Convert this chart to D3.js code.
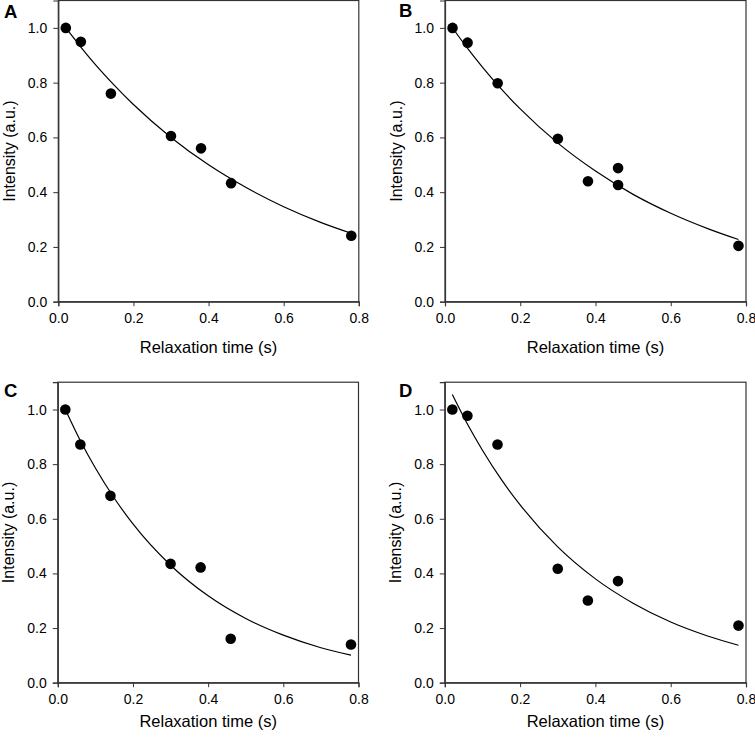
<!DOCTYPE html>
<html>
<head>
<meta charset="utf-8">
<script src="https://cdn.jsdelivr.net/npm/d3@7/dist/d3.min.js"></script>
<style>
  html, body { margin: 0; padding: 0; background: #fff; }
  svg { display: block; }
  text { font-family: "Liberation Sans", Arial, sans-serif; fill: #000; }
</style>
</head>
<body>
<svg id="chart" width="755" height="739"></svg>
<script>
// ---- data ----
const panelLabels = ["A", "B", "C", "D"];
const xTicks = [0, 0.2, 0.4, 0.6, 0.8];
const yTicks = [0, 0.2, 0.4, 0.6, 0.8, 1.0];
const xTitle = "Relaxation time (s)";
const yTitle = "Intensity (a.u.)";

// measured points (relaxation time, intensity)
const timesA = [0.02, 0.06, 0.14, 0.30, 0.38, 0.46, 0.78];
const valuesA = [1.00, 0.949, 0.760, 0.605, 0.560, 0.433, 0.241];
const timesB = [0.02, 0.06, 0.14, 0.30, 0.38, 0.46, 0.46, 0.78];
const valuesB = [1.00, 0.946, 0.798, 0.595, 0.440, 0.488, 0.426, 0.204];
const timesC = [0.02, 0.06, 0.14, 0.30, 0.38, 0.46, 0.78];
const valuesC = [1.00, 0.872, 0.684, 0.435, 0.422, 0.161, 0.140];
const timesD = [0.02, 0.06, 0.14, 0.30, 0.38, 0.46, 0.78];
const valuesD = [1.00, 0.977, 0.872, 0.417, 0.301, 0.372, 0.209];

// fitted curves
const fitTimes = [0.02, 0.06, 0.10, 0.15, 0.20, 0.30, 0.40, 0.50, 0.60, 0.70, 0.78];
const fitA = [1.000, 0.930, 0.864, 0.789, 0.720, 0.600, 0.500, 0.417, 0.347, 0.289, 0.250];
const fitB = [1.000, 0.925, 0.856, 0.776, 0.704, 0.579, 0.477, 0.392, 0.323, 0.266, 0.227];
const fitC = [1.000, 0.886, 0.786, 0.676, 0.581, 0.430, 0.318, 0.235, 0.174, 0.128, 0.101];
const fitD = [1.055, 0.947, 0.851, 0.744, 0.651, 0.497, 0.380, 0.291, 0.222, 0.170, 0.137];

const panels = [
  { label: panelLabels[0], t: timesA, v: valuesA, fit: fitA },
  { label: panelLabels[1], t: timesB, v: valuesB, fit: fitB },
  { label: panelLabels[2], t: timesC, v: valuesC, fit: fitC },
  { label: panelLabels[3], t: timesD, v: valuesD, fit: fitD }
];

// ---- layout ----
const layout = [
  { left: 58.3, top: 0.5, w: 300.5, h: 301.2, letterX: 4, letterY: 17.5, xTitleDy: 51 },
  { left: 445, top: 0.5, w: 301, h: 301.2, letterX: 399, letterY: 17, xTitleDy: 51 },
  { left: 57.8, top: 382.2, w: 300.7, h: 300.5, letterX: 4, letterY: 397, xTitleDy: 44 },
  { left: 444.8, top: 382.2, w: 301.2, h: 300.5, letterX: 399, letterY: 397, xTitleDy: 44 }
];

const svg = d3.select("#chart");

panels.forEach((p, i) => {
  const L = layout[i];
  const x = d3.scaleLinear().domain([0, 0.8]).range([L.left, L.left + L.w]);
  const y = d3.scaleLinear().domain([0, 1.1]).range([L.top + L.h, L.top]);
  const g = svg.append("g");

  // frame (top and right)
  g.append("rect")
    .attr("x", x(0)).attr("y", y(1.1))
    .attr("width", x(0.8) - x(0)).attr("height", y(0) - y(1.1))
    .attr("fill", "none").attr("stroke", "#333").attr("stroke-width", 1.2);

  const fmt = d3.format(".1f");
  const xa = g.append("g")
    .attr("transform", `translate(0,${y(0)})`)
    .call(d3.axisBottom(x).tickValues(xTicks).tickFormat(fmt).tickSize(4.5).tickPadding(6.5));
  const ya = g.append("g")
    .attr("transform", `translate(${x(0)},0)`)
    .call(d3.axisLeft(y).tickValues(yTicks).tickFormat(fmt).tickSize(5).tickPadding(6));
  [xa, ya].forEach(a => {
    a.select(".domain").attr("stroke", "#333").attr("stroke-width", 1.2);
    a.selectAll(".tick line").attr("stroke", "#333").attr("stroke-width", 1);
    a.selectAll(".tick text")
      .style("font-family", '"Liberation Sans", Arial, sans-serif')
      .style("font-size", "14px").attr("fill", "#000");
  });

  // fit curve
  const line = d3.line()
    .x((d, k) => x(fitTimes[k]))
    .y(d => y(d))
    .curve(d3.curveMonotoneX);
  g.append("path")
    .datum(p.fit)
    .attr("d", line)
    .attr("fill", "none").attr("stroke", "#000").attr("stroke-width", 1.2);

  // points
  g.selectAll("circle.pt")
    .data(p.v)
    .enter().append("circle")
    .attr("class", "pt")
    .attr("cx", (d, k) => x(p.t[k]))
    .attr("cy", d => y(d))
    .attr("r", 5.3)
    .attr("fill", "#000");

  // axis titles
  g.append("text")
    .attr("x", (x(0) + x(0.8)) / 2)
    .attr("y", y(0) + L.xTitleDy)
    .attr("text-anchor", "middle")
    .style("font-size", "16.5px")
    .text(xTitle);
  g.append("text")
    .attr("transform", `translate(${x(0) - 43.5},${(y(0) + y(1.1)) / 2}) rotate(-90)`)
    .attr("text-anchor", "middle")
    .style("font-size", "16px")
    .text(yTitle);

  // panel letter
  g.append("text")
    .attr("x", L.letterX).attr("y", L.letterY)
    .style("font-size", "18.5px").style("font-weight", "bold")
    .text(p.label);
});
</script>
</body>
</html>
